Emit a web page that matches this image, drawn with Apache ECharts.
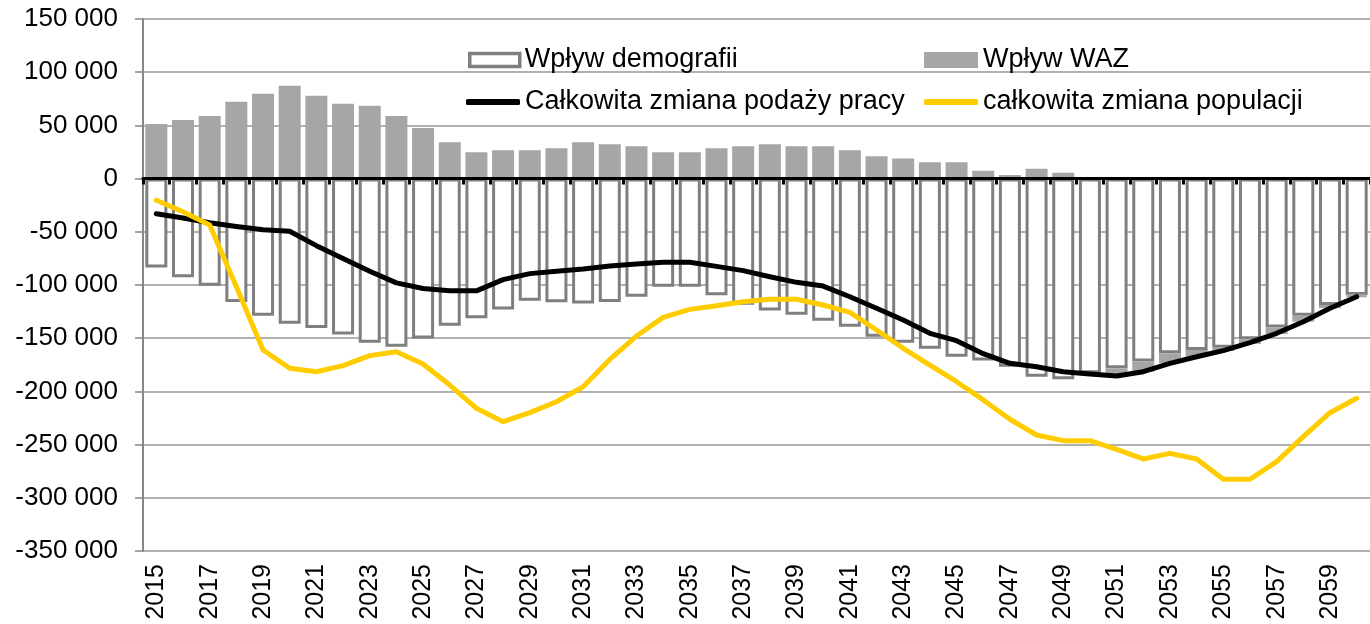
<!DOCTYPE html>
<html>
<head>
<meta charset="utf-8">
<script src="https://cdn.jsdelivr.net/npm/echarts@6/dist/echarts.min.js"></script>
<style>
  html, body { margin: 0; padding: 0; background: #fff; }
  #chart { width: 1370px; height: 624px; }
</style>
</head>
<body>
<div id="chart"></div>
<script>
const years = [
  '2015', '2016', '2017', '2018', '2019', '2020', '2021', '2022', '2023', '2024',
  '2025', '2026', '2027', '2028', '2029', '2030', '2031', '2032', '2033', '2034',
  '2035', '2036', '2037', '2038', '2039', '2040', '2041', '2042', '2043', '2044',
  '2045', '2046', '2047', '2048', '2049', '2050', '2051', '2052', '2053', '2054',
  '2055', '2056', '2057', '2058', '2059', '2060',
];

// Wpływ demografii
const demografia = [
  -83500, -92600, -100700, -116000, -128800, -136500, -140500, -146500, -154200, -158000,
  -150300, -138200, -131200, -123000, -114700, -116200, -117500, -116000, -111000, -101600,
  -101600, -109700, -118500, -124000, -127900, -133500, -139200, -148600, -154200, -159900,
  -167400, -171000, -176800, -186200, -188600, -183000, -178300, -172000, -164200, -161000,
  -159000, -151000, -140000, -129000, -118800, -109400,
];

// Wpływ WAZ
const waz = [
  51300, 55000, 58800, 72300, 79800, 87300, 77900, 70400, 68500, 58800,
  47600, 34100, 24700, 26600, 26600, 28500, 34100, 32200, 30300, 24700,
  24700, 28500, 30300, 32200, 30300, 30300, 26600, 21000, 19000, 15300,
  15300, 7400, 3400, 9300, 5500, -1000, -7200, -9500, -9400, -6400,
  -3000, -4500, -6000, -5500, -3000, -1600,
];

// Całkowita zmiana podaży pracy
const podazPracy = [
  -33000, -37000, -41500, -45000, -48000, -49500, -63000, -75000, -87000, -98000,
  -103300, -105300, -105500, -95000, -89300, -87000, -85000, -82100, -80300, -78700,
  -78700, -82500, -86500, -92200, -97500, -101000, -111000, -121900, -132900, -145400,
  -152300, -164500, -173600, -176800, -181500, -183600, -185500, -181500, -173600, -167400,
  -161700, -154200, -145400, -134500, -121900, -111000,
];

// całkowita zmiana populacji
const populacja = [
  -20300, -31100, -43600, -101600, -161100, -178300, -181500, -175800, -166400, -162700,
  -174200, -194000, -215900, -228500, -220000, -209700, -195600, -170000, -148000, -130400,
  -122900, -119500, -115700, -113400, -113400, -118800, -125700, -142300, -159500, -175200,
  -190900, -208000, -226200, -241000, -246300, -246300, -254400, -263500, -258200, -263500,
  -282600, -282600, -266000, -242500, -220000, -206500,
];

const fontFamily = "'Liberation Sans', Arial, sans-serif";

const formatThousands = (v) => {
  const s = String(Math.abs(v)).replace(/\B(?=(\d{3})+(?!\d))/g, ' ');
  return (v < 0 ? '-' : '') + s;
};

const legendText = {
  fontFamily,
  fontSize: 27,
  lineHeight: 28,
  color: '#000',
};

const makeLegend = (name, left, top, extra) => ({
  data: [name],
  left,
  top,
  padding: 0,
  selectedMode: false,
  itemWidth: 54,
  textStyle: legendText,
  ...extra,
});

const chart = echarts.init(document.getElementById('chart'));

chart.setOption({
  animation: false,
  legend: [
    makeLegend('Wpływ demografii', 468, 46, {
      icon: 'rect',
      itemWidth: 50,
      itemHeight: 13,
      itemStyle: { color: '#fff', borderColor: '#7f7f7f', borderWidth: 3.5 },
    }),
    makeLegend('Wpływ WAZ', 924, 46, {
      icon: 'rect',
      itemHeight: 16,
      itemStyle: { color: '#a6a6a6', borderWidth: 0 },
    }),
    makeLegend('Całkowita zmiana podaży pracy', 466, 88, {
      icon: 'roundRect',
      itemHeight: 6,
      itemStyle: { color: '#000', borderWidth: 0 },
    }),
    makeLegend('całkowita zmiana populacji', 924, 88, {
      icon: 'roundRect',
      itemHeight: 6,
      itemStyle: { color: '#ffcc00', borderWidth: 0 },
    }),
  ],
  grid: {
    left: 143,
    right: -9,
    top: 19,
    bottom: 73,
  },
  xAxis: [
    {
      // zero line with its ticks
      type: 'category',
      data: years,
      position: 'top',
      z: 3,
      axisLine: { onZero: true, lineStyle: { color: '#000', width: 3 } },
      axisTick: {
        show: true, inside: true, interval: 0, length: 6, lineStyle: { color: '#000', width: 3 },
      },
      axisLabel: { show: false },
      splitLine: { show: false },
    },
    {
      // year labels along the bottom
      type: 'category',
      data: years,
      position: 'bottom',
      axisLine: { show: false, onZero: false },
      axisTick: { show: false },
      splitLine: { show: false },
      axisLabel: {
        interval: 1,
        rotate: 90,
        margin: 13,
        fontFamily,
        fontSize: 25,
        color: '#000',
      },
    },
  ],
  yAxis: {
    type: 'value',
    min: -350000,
    max: 150000,
    interval: 50000,
    axisLine: { show: true, onZero: false, lineStyle: { color: '#868686', width: 2 } },
    axisTick: { show: true, length: 8, lineStyle: { color: '#868686', width: 1.5 } },
    splitLine: { lineStyle: { color: '#969696', width: 1.5 } },
    axisLabel: {
      margin: 25,
      fontFamily,
      fontSize: 26,
      color: '#000',
      formatter: formatThousands,
    },
  },
  series: [
    {
      name: 'Wpływ demografii',
      type: 'bar',
      stack: 'total',
      xAxisIndex: 0,
      barWidth: 22,
      data: demografia,
      itemStyle: { color: '#fff', borderColor: '#7f7f7f', borderWidth: 3 },
      emphasis: { disabled: true },
    },
    {
      name: 'Wpływ WAZ',
      type: 'bar',
      stack: 'total',
      xAxisIndex: 0,
      barWidth: 22,
      data: waz,
      itemStyle: { color: '#a6a6a6', borderColor: '#a6a6a6', borderWidth: 3 },
      emphasis: { disabled: true },
    },
    {
      name: 'Całkowita zmiana podaży pracy',
      type: 'line',
      xAxisIndex: 0,
      data: podazPracy,
      symbol: 'none',
      z: 4,
      lineStyle: { color: '#000', width: 5, join: 'round', cap: 'round' },
      itemStyle: { color: '#000' },
      emphasis: { disabled: true },
    },
    {
      name: 'całkowita zmiana populacji',
      type: 'line',
      xAxisIndex: 0,
      data: populacja,
      symbol: 'none',
      z: 5,
      lineStyle: { color: '#ffcc00', width: 5, join: 'round', cap: 'round' },
      itemStyle: { color: '#ffcc00' },
      emphasis: { disabled: true },
    },
  ],
});
</script>
</body>
</html>
